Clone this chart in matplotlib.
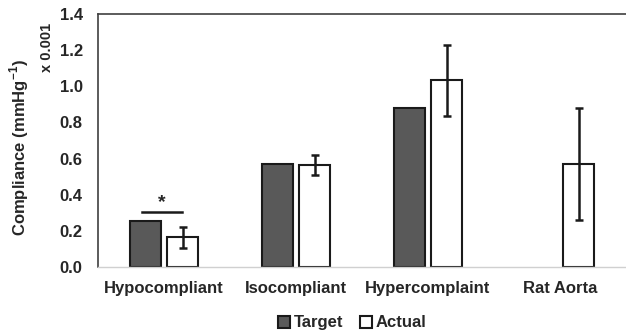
import matplotlib
matplotlib.use("Agg")
import matplotlib.pyplot as plt
import numpy as np

plt.rcParams['font.family'] = ['Liberation Sans', 'DejaVu Sans']
plt.rcParams['mathtext.fontset'] = 'custom'
plt.rcParams['mathtext.bf'] = 'Liberation Sans:bold'
plt.rcParams['mathtext.rm'] = 'Liberation Sans'

categories = ["Hypocompliant", "Isocompliant", "Hypercomplaint", "Rat Aorta"]
target = [0.256, 0.570, 0.882, np.nan]
actual = [0.165, 0.565, 1.033, 0.570]
actual_err = [0.057, 0.055, 0.197, 0.312]
yticks = [0.0, 0.2, 0.4, 0.6, 0.8, 1.0, 1.2, 1.4]
sig_level = 0.305

fig = plt.figure(figsize=(6.26, 3.33), dpi=100)
ax = fig.add_axes([0.1565, 0.198, 0.8435, 0.76])

x = np.arange(len(categories))
w = 0.234
off = 0.143
txt = '#262626'

ax.bar(x - off, target, w, color='#595959', edgecolor='#1a1a1a', linewidth=1.5,
       label='Target', zorder=2)
ax.bar(x + off, actual, w, color='white', edgecolor='#1a1a1a', linewidth=1.5,
       label='Actual', zorder=2)
ax.errorbar(x + off, actual, yerr=actual_err, fmt='none', ecolor='#1a1a1a',
            elinewidth=1.8, capsize=2.8, capthick=1.8, zorder=3)

# significance marker over the first group
ax.plot([x[0] - 0.17, x[0] + 0.14], [sig_level, sig_level], color='#1a1a1a',
        lw=1.8, zorder=3)
ax.text(x[0] - 0.02, sig_level + 0.005, '*', ha='center', va='bottom',
        fontsize=14, fontweight='bold', color=txt)

ax.set_xlim(-0.5, 3.5)
ax.set_ylim(0, 1.4)
ax.set_yticks(yticks)
ax.set_yticklabels([f"{v:.1f}" for v in yticks])
ax.set_xticks(x)
ax.set_xticklabels(categories)
ax.tick_params(length=0, labelsize=12, colors=txt)
ax.tick_params(axis='y', pad=11)
ax.tick_params(axis='x', pad=10)
for lab in ax.get_xticklabels() + ax.get_yticklabels():
    lab.set_fontweight('bold')

ax.spines['right'].set_visible(False)
ax.spines['top'].set_color('#404040')
ax.spines['top'].set_linewidth(1.2)
ax.spines['left'].set_color('#404040')
ax.spines['left'].set_linewidth(1.2)
ax.spines['bottom'].set_color('#d0d0d0')
ax.spines['bottom'].set_linewidth(1.0)

fig.text(0.031, 0.558, 'Compliance (mmHg$^{\\mathbf{-1}}$)', rotation=90,
         ha='center', va='center', fontsize=12, fontweight='bold', color=txt)
fig.text(0.075, 0.859, 'x 0.001', rotation=90, ha='center', va='center',
         fontsize=10.5, fontweight='bold', color=txt)

leg = ax.legend(loc='center', bbox_to_anchor=(0.481, -0.221), ncol=2,
                frameon=False, fontsize=12, handlelength=0.75, handleheight=0.75,
                handletextpad=0.2, columnspacing=1.0)
for t in leg.get_texts():
    t.set_fontweight('bold')
    t.set_color(txt)

fig.savefig('out.png', dpi=100)
